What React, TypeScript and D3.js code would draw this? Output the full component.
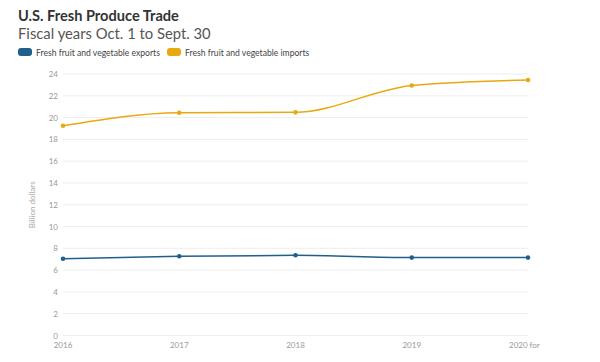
import React from "react";
import * as d3 from "d3";

const years = ["2016", "2017", "2018", "2019", "2020"];
const yearLabels = ["2016", "2017", "2018", "2019", "2020 forecast"];
const exportsVals = [7.05, 7.27, 7.36, 7.15, 7.15];
const importsVals = [19.25, 20.45, 20.48, 22.95, 23.45];
const yTicks = [0, 2, 4, 6, 8, 10, 12, 14, 16, 18, 20, 22, 24];

const W = 600, H = 362;
const left = 63, right = 528, top = 74, bottom = 335.5;
const font = "Lato, 'Source Sans Pro', sans-serif";
const exportColor = "#215f8b";
const importColor = "#e8a90e";

export default function App() {
  const x = d3.scalePoint<string>().domain(years).range([left, right]);
  const y = d3.scaleLinear().domain([0, 24]).range([bottom, top]);
  const line = d3
    .line<number>()
    .x((_, i) => x(years[i]) as number)
    .y((d) => y(d))
    .curve(d3.curveMonotoneX);
  const series = [
    { vals: exportsVals, color: exportColor },
    { vals: importsVals, color: importColor },
  ];
  return (
    <svg width={W} height={H} style={{ position: "absolute", left: 0, top: 0, background: "#fff" }} fontFamily={font}>
      <defs>
        <clipPath id="clipx">
          <rect x={0} y={0} width={540} height={H} />
        </clipPath>
      </defs>
      <text x={18} y={21} fontSize={14.6} fontWeight={700} fill="#333">U.S. Fresh Produce Trade</text>
      <text x={18} y={39} fontSize={14.8} fill="#555">Fiscal years Oct. 1 to Sept. 30</text>
      <rect x={18} y={48} width={14} height={8} rx={3} fill={exportColor} />
      <text x={36} y={55.5} fontSize={8.6} fill="#444">Fresh fruit and vegetable exports</text>
      <rect x={167} y={48} width={14} height={8} rx={3} fill={importColor} />
      <text x={185} y={55.5} fontSize={8.6} fill="#444">Fresh fruit and vegetable imports</text>
      {yTicks.map((t) => (
        <g key={t}>
          <line x1={left} x2={right} y1={y(t)} y2={y(t)} stroke="#eeeeee" strokeWidth={1} />
          <text x={58} y={y(t) + 3} fontSize={8} fill="#999" textAnchor="end">{t}</text>
        </g>
      ))}
      <text transform={`translate(35,${(top + bottom) / 2}) rotate(-90)`} fontSize={8} fill="#aaa" textAnchor="middle">Billion dollars</text>
      <g clipPath="url(#clipx)">
        {years.map((yr, i) => (
          <text key={yr} x={x(yr)} y={348} fontSize={8} fill="#999" textAnchor={i === years.length - 1 ? "start" : "middle"} dx={i === years.length - 1 ? -19 : 0}>
            {yearLabels[i]}
          </text>
        ))}
      </g>
      {series.map((s, si) => (
        <g key={si}>
          <path d={line(s.vals) || ""} fill="none" stroke={s.color} strokeWidth={1.5} />
          {s.vals.map((v, i) => (
            <circle key={i} cx={x(years[i])} cy={y(v)} r={2.3} fill={s.color} />
          ))}
        </g>
      ))}
    </svg>
  );
}
